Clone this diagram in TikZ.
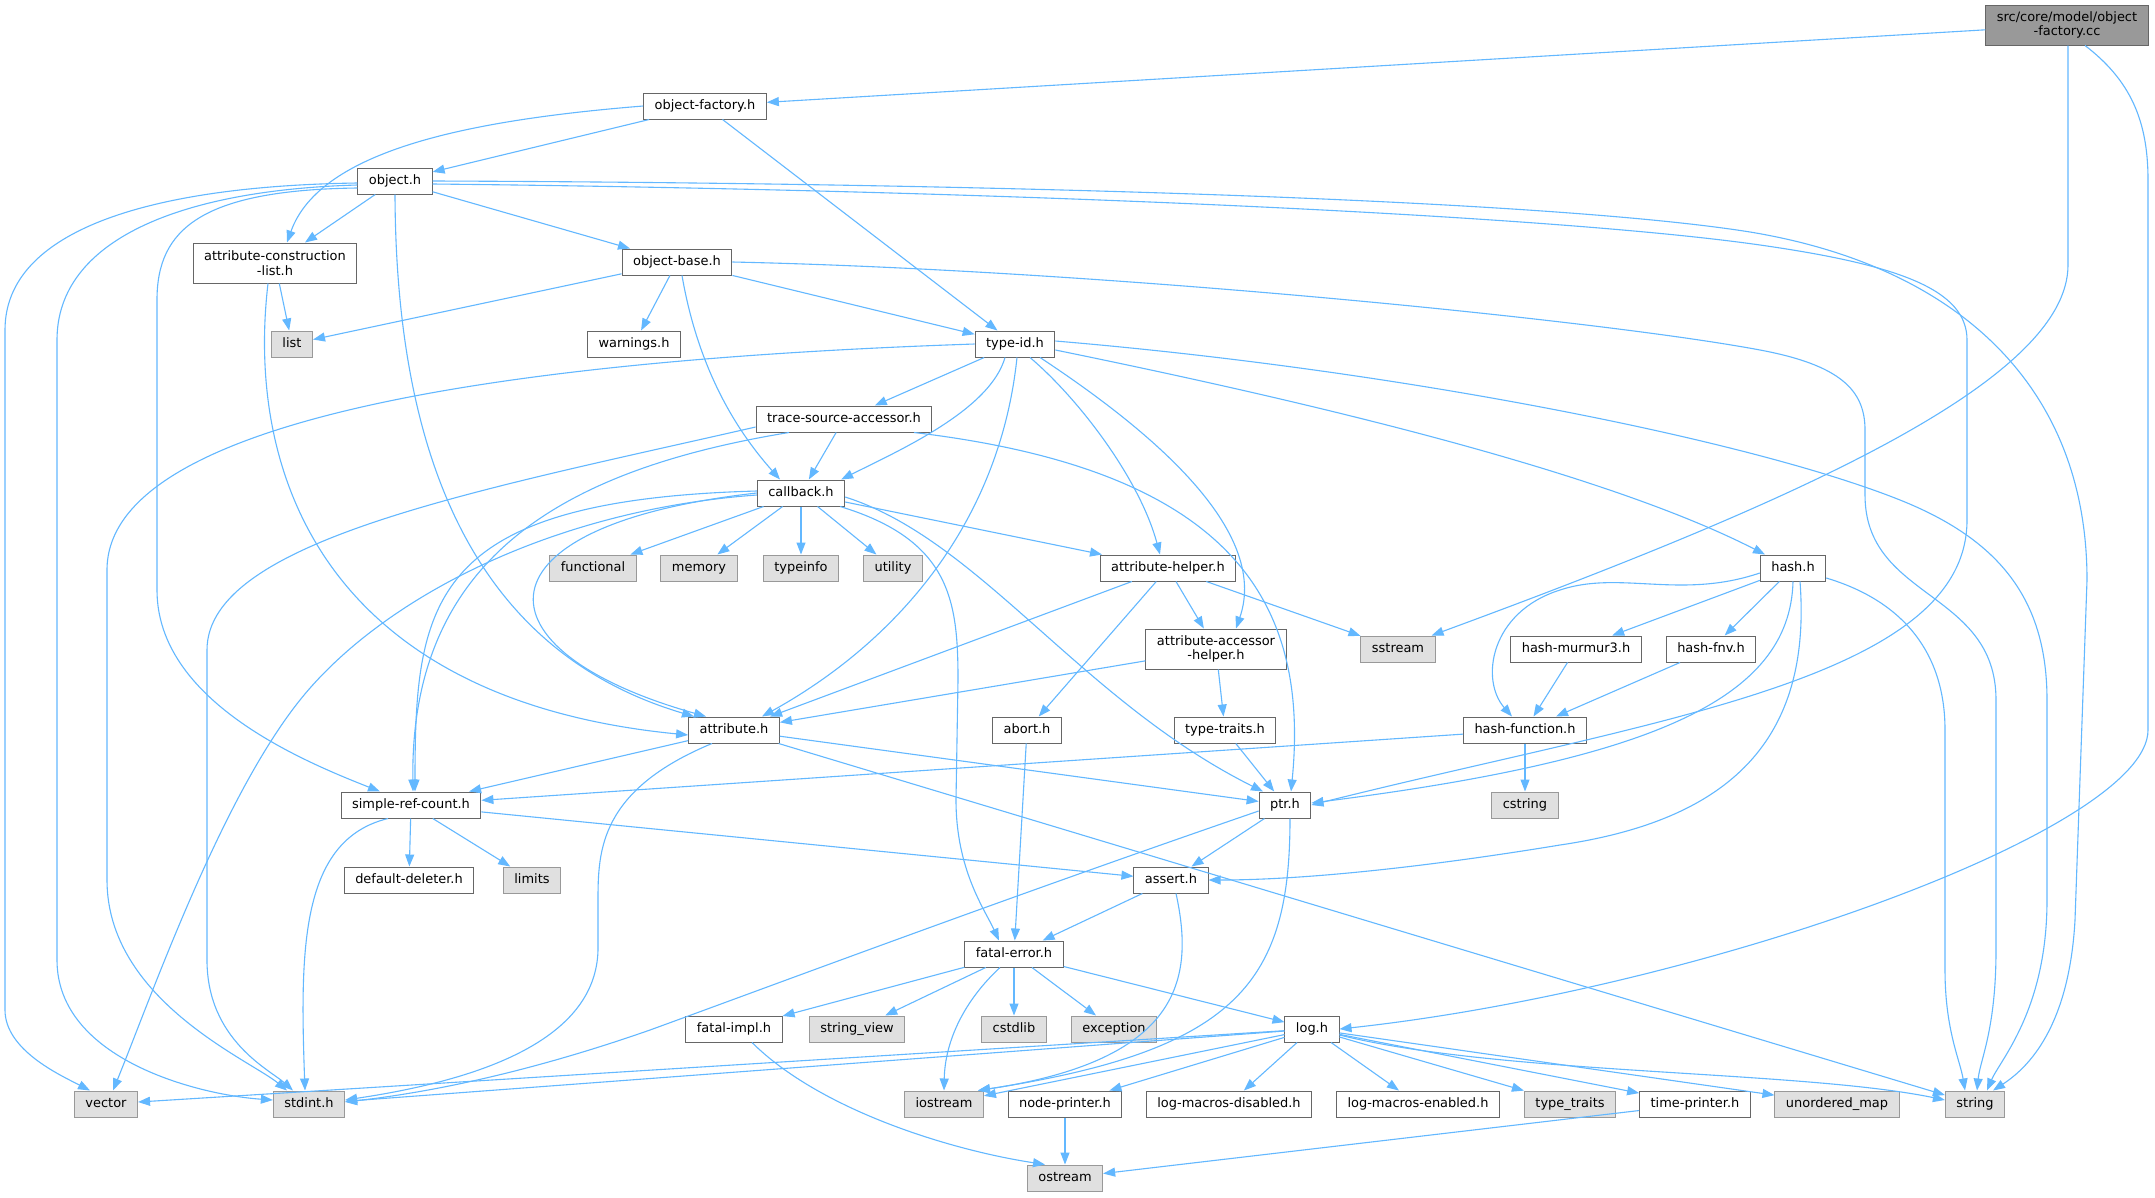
\documentclass[tikz,border=0pt]{standalone}
\usepackage{fontspec}
\usepackage{tikz}
\usetikzlibrary{arrows.meta}
\newfontfamily\dejavu{DejaVu Sans}
\definecolor{edgeblue}{HTML}{63B8FF}
\definecolor{boxline}{HTML}{666666}
\definecolor{sysline}{HTML}{999999}
\definecolor{sysfill}{HTML}{E0E0E0}
\definecolor{rootfill}{HTML}{999999}
\tikzset{
  box/.style={draw=boxline,fill=white,line width=1pt,inner xsep=11pt,inner ysep=0pt,font=\dejavu\fontsize{12.95}{14.5}\selectfont},
  hdr/.style={box,minimum height=26pt,text height=9.5pt,text depth=2.7pt},
  hdrtwo/.style={box,align=center,minimum height=40pt},
  sys/.style={hdr,draw=sysline,fill=sysfill},
  rootnode/.style={hdrtwo,fill=rootfill},
  inc/.style={draw=edgeblue,line width=1.1pt,-{Triangle[length=12pt,width=9pt]}}
}

\begin{document}
\begin{tikzpicture}[x=1pt,y=-1pt]
  \fill[white](0,0)rectangle(2155,1197);
  \useasboundingbox(0,0)rectangle(2155,1197);

  \node[rootnode](cc)at(2067,25){src/core/model/object\\-factory.cc};
  \node[hdr](ofh)at(705,106){object-factory.h};
  \node[hdr](obj)at(395,181){object.h};
  \node[hdrtwo](acl)at(275,263){attribute-construction\\-list.h};
  \node[hdr](obase)at(677,262){object-base.h};
  \node[sys](list)at(292,344){list};
  \node[hdr](warn)at(634,344){warnings.h};
  \node[hdr](tid)at(1015,344){type-id.h};
  \node[hdr](tsa)at(844,419){trace-source-accessor.h};
  \node[hdr](cb)at(801,493){callback.h};
  \node[sys](func)at(593,568){functional};
  \node[sys](mem)at(699,568){memory};
  \node[sys](tinfo)at(801,568){typeinfo};
  \node[sys](util)at(893,568){utility};
  \node[hdr](ahelp)at(1168,568){attribute-helper.h};
  \node[hdr](hash)at(1793,568){hash.h};
  \node[sys](sstr)at(1398,649){sstream};
  \node[hdrtwo](aacc)at(1216,649){attribute-accessor\\-helper.h};
  \node[hdr](mur)at(1576,649){hash-murmur3.h};
  \node[hdr](fnv)at(1711,649){hash-fnv.h};
  \node[hdr](abort)at(1027,730){abort.h};
  \node[hdr](ttr)at(1225,730){type-traits.h};
  \node[hdr](attr)at(734,730){attribute.h};
  \node[hdr](hfun)at(1525,730){hash-function.h};
  \node[hdr](src)at(411,805){simple-ref-count.h};
  \node[hdr](ptr)at(1285,805){ptr.h};
  \node[sys](cstr)at(1525,805){cstring};
  \node[hdr](ddel)at(409,880){default-deleter.h};
  \node[sys](lim)at(532,880){limits};
  \node[hdr](asrt)at(1171,880){assert.h};
  \node[hdr](fatal)at(1014,954){fatal-error.h};
  \node[hdr](fimpl)at(734,1029){fatal-impl.h};
  \node[sys](sview)at(857,1029){string\_view};
  \node[sys](cstd)at(1014,1029){cstdlib};
  \node[sys](exc)at(1114,1029){exception};
  \node[hdr](log)at(1312,1029){log.h};
  \node[sys](vec)at(106,1104){vector};
  \node[sys](stdint)at(309,1104){stdint.h};
  \node[sys](ios)at(944,1104){iostream};
  \node[hdr](nprint)at(1065,1104){node-printer.h};
  \node[hdr](lmd)at(1229,1104){log-macros-disabled.h};
  \node[hdr](lme)at(1418,1104){log-macros-enabled.h};
  \node[sys](ttraits)at(1570,1104){type\_traits};
  \node[hdr](tprint)at(1695,1104){time-printer.h};
  \node[sys](umap)at(1837,1104){unordered\_map};
  \node[sys](str)at(1975,1104){string};
  \node[sys](ostr)at(1065,1178){ostream};

  \draw[inc](cc)--(ofh);
  \draw[inc]([xshift=1pt]cc.south)--(2068,265)..controls(2068,380)and(1800,500)..([xshift=-4pt]sstr.north east);
  \draw[inc]([xshift=18pt]cc.south)..controls(2130,80)and(2148,120)..(2148,180)--(2148,730)..controls(2148,830)and(1700,990)..(log.east);

  \draw[inc](ofh)--(obj);
  \draw[inc](ofh.west)..controls(470,120)and(320,150)..([xshift=12pt]acl.north);
  \draw[inc](ofh)--(tid);

  \draw[inc](obj)--(acl);
  \draw[inc](obj)--(obase);
  \draw[inc](obj.south)..controls(396,450)and(470,650)..([xshift=-40pt]attr.north);
  \draw[inc]([yshift=-7pt]obj.west)..controls(200,190)and(157,230)..(157,300)--(157,590)..controls(157,700)and(300,760)..([xshift=-31pt]src.north);
  \draw[inc]([yshift=-2pt]obj.west)..controls(150,186)and(5,230)..(5,330)--(5,1010)..controls(5,1050)and(60,1075)..([xshift=-16pt]vec.north);
  \draw[inc]([yshift=-4pt]obj.west)..controls(180,190)and(57,240)..(57,340)--(57,960)..controls(57,1060)and(200,1095)..([yshift=4pt]stdint.west);
  \draw[inc](obj.east)..controls(1000,183)and(1550,200)..(1750,232)..controls(1950,265)and(2087,380)..(2087,580)--(2075,920)..controls(2070,1010)and(2040,1060)..([xshift=18pt]str.north);
  \draw[inc]([yshift=-3pt]obj.east)..controls(1000,190)and(1550,215)..(1760,245)..controls(1900,265)and(1967,290)..(1967,340)--(1967,520)..controls(1967,680)and(1650,720)..(ptr.east);

  \draw[inc](acl)--(list);
  \draw[inc]([xshift=-7pt]acl.south)..controls(245,480)and(330,700)..([yshift=-5pt]attr.west);

  \draw[inc](obase)--(list);
  \draw[inc](obase)--(warn);
  \draw[inc](obase)--(tid);
  \draw[inc]([xshift=5pt]obase.south)..controls(700,380)and(745,440)..([xshift=-21pt]cb.north);
  \draw[inc](obase.east)..controls(1100,270)and(1600,320)..(1760,350)..controls(1840,365)and(1865,390)..(1865,430)--(1865,495)..controls(1865,600)and(1996,590)..(1996,700)--(1996,950)..controls(1996,1030)and(1980,1060)..([xshift=2pt]str.north);

  \draw[inc](tid)--(tsa);
  \draw[inc]([xshift=-10pt]tid.south)..controls(990,410)and(900,450)..([xshift=-4pt]cb.north east);
  \draw[inc]([xshift=2pt]tid.south)..controls(1000,520)and(900,640)..([xshift=28pt]attr.north);
  \draw[inc]([xshift=15pt]tid.south)..controls(1080,400)and(1140,480)..([xshift=-8pt]ahelp.north);
  \draw[inc]([xshift=25pt]tid.south)..controls(1150,430)and(1270,530)..([xshift=20pt]aacc.north);
  \draw[inc]([yshift=-6pt]tid.east)..controls(1300,400)and(1600,470)..([xshift=-28pt]hash.north);
  \draw[inc]([yshift=3pt]tid.east)..controls(1400,370)and(1750,440)..(1900,500)..controls(2000,540)and(2047,600)..(2047,700)--(2047,900)..controls(2047,1010)and(2000,1060)..([xshift=12pt]str.north);
  \draw[inc](tid.west)..controls(500,360)and(107,420)..(107,570)--(107,880)..controls(107,1000)and(250,1060)..([xshift=-22pt]stdint.north);

  \draw[inc](tsa)--(cb);
  \draw[inc]([xshift=-55pt]tsa.south)..controls(560,470)and(410,560)..([xshift=2pt]src.north);
  \draw[inc]([yshift=-8pt]tsa.west)..controls(480,490)and(207,540)..(207,650)--(207,960)..controls(207,1040)and(270,1070)..([xshift=-16pt]stdint.north);
  \draw[inc]([xshift=70pt]tsa.south)..controls(1230,470)and(1310,600)..([xshift=6pt]ptr.north);

  \draw[inc](cb)--(func);
  \draw[inc](cb)--(mem);
  \draw[inc](cb)--(tinfo);
  \draw[inc](cb)--(util);
  \draw[inc](cb)--(ahelp);
  \draw[inc](cb.west)..controls(470,525)and(470,650)..([xshift=-28pt]attr.north);
  \draw[inc]([yshift=2pt]cb.west)..controls(430,500)and(415,600)..([xshift=4pt]src.north);
  \draw[inc]([yshift=-2pt]cb.west)..controls(550,510)and(380,600)..(300,700)..controls(220,800)and(150,1000)..([xshift=7pt]vec.north);
  \draw[inc]([xshift=-5pt]cb.south east)..controls(950,540)and(958,600)..(958,680)--(956,800)..controls(956,870)and(985,910)..([xshift=-15pt]fatal.north);
  \draw[inc]([yshift=-4pt]cb.east)..controls(980,540)and(1080,700)..([xshift=-22pt]ptr.north);

  \draw[inc](ahelp)--(attr);
  \draw[inc](ahelp)--(aacc);
  \draw[inc](ahelp)--(abort);
  \draw[inc](ahelp)--(sstr);
  \draw[inc](aacc)--(attr);
  \draw[inc](aacc)--(ttr);

  \draw[inc](hash)--(mur);
  \draw[inc](hash)--(fnv);
  \draw[inc]([yshift=-5pt]hash.west)..controls(1680,600)and(1620,570)..(1560,590)..controls(1490,612)and(1480,680)..([xshift=-13pt]hfun.north);
  \draw[inc](hash.south)..controls(1790,700)and(1650,760)..([yshift=2pt]ptr.east);
  \draw[inc]([xshift=7pt]hash.south)..controls(1812,740)and(1730,820)..(1560,845)..controls(1420,868)and(1300,880)..(asrt.east);
  \draw[inc]([yshift=-10pt]hash.east)..controls(1900,600)and(1945,650)..(1945,730)--(1945,970)..controls(1945,1030)and(1960,1060)..([xshift=-10pt]str.north);
  \draw[inc](mur)--(hfun);
  \draw[inc](fnv)--(hfun);
  \draw[inc](hfun)--(src);
  \draw[inc](hfun)--(cstr);
  \draw[inc](abort)--(fatal);
  \draw[inc](ttr)--(ptr);

  \draw[inc](attr)--(src);
  \draw[inc](attr)--(ptr);
  \draw[inc]([xshift=-22pt]attr.south)..controls(600,790)and(598,850)..(598,900)--(598,950)..controls(596,1040)and(480,1080)..([yshift=4pt]stdint.east);
  \draw[inc](attr)--(str);

  \draw[inc](src)--(ddel);
  \draw[inc](src)--(lim);
  \draw[inc](src)--(asrt);
  \draw[inc]([xshift=-23pt]src.south)..controls(300,840)and(300,950)..([xshift=-4pt]stdint.north);

  \draw[inc](ptr)--(asrt);
  \draw[inc]([yshift=-6pt]ptr.west)..controls(1000,900)and(760,990)..(650,1030)..controls(550,1065)and(450,1090)..([yshift=2pt]stdint.east);
  \draw[inc]([xshift=5pt]ptr.south)..controls(1290,980)and(1240,1050)..([xshift=-6pt]ios.north east);
  \draw[inc](asrt)--(fatal);
  \draw[inc]([xshift=5pt]asrt.south)..controls(1195,980)and(1180,1060)..([xshift=-6pt]ios.north east);

  \draw[inc](fatal)--(fimpl);
  \draw[inc](fatal)--(sview);
  \draw[inc](fatal)--(cstd);
  \draw[inc](fatal)--(exc);
  \draw[inc](fatal)--(log);
  \draw[inc]([xshift=-14pt]fatal.south)..controls(965,1000)and(945,1040)..(ios.north);
  \draw[inc]([xshift=18pt]fimpl.south)..controls(820,1110)and(950,1150)..([xshift=-20pt]ostr.north);

  \draw[inc](log)--(vec);
  \draw[inc](log)--(stdint);
  \draw[inc](log)--(ios);
  \draw[inc](log)--(nprint);
  \draw[inc](log)--(lmd);
  \draw[inc](log)--(lme);
  \draw[inc](log)--(ttraits);
  \draw[inc](log)--(tprint);
  \draw[inc](log)--(umap);
  \draw[inc]([yshift=-6pt]log.east)..controls(1500,1075)and(1800,1070)..([yshift=4pt]str.west);
  \draw[inc](nprint)--(ostr);
  \draw[inc](tprint)--(ostr);
\end{tikzpicture}
\end{document}
